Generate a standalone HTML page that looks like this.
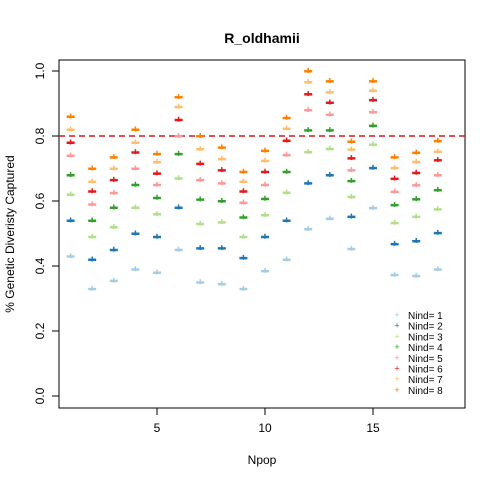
<!DOCTYPE html>
<html><head><meta charset="utf-8"><style>body{margin:0;background:#fff}svg{font-family:"Liberation Sans",Arial,sans-serif}</style></head>
<body>
<svg id="chart" width="480" height="480" xmlns="http://www.w3.org/2000/svg">
<rect width="480" height="480" fill="#fff"/>
<text x="262" y="43" text-anchor="middle" font-weight="bold" font-size="14">R_oldhamii</text>
<text x="262" y="464" text-anchor="middle" font-size="12">Npop</text>
<text x="14" y="234" text-anchor="middle" font-size="12" transform="rotate(-90 14 234)">% Genetic Diveristy Captured</text>
<rect x="59" y="60" width="406" height="348" fill="none" stroke="#000"/>
<g id="axes"></g>
<g id="marks"></g>
<g id="legend"></g>
</svg>
<script>
const npop=[1,2,3,4,5,6,7,8,9,10,11,12,13,14,15,16,17,18];
const s1=[.43,.33,.355,.39,.38,.45,.35,.345,.33,.385,.42,.514,.546,.453,.579,.373,.37,.39];
const s2=[.54,.42,.45,.50,.49,.58,.455,.455,.425,.49,.54,.655,.68,.552,.702,.468,.477,.502];
const s3=[.62,.49,.52,.58,.56,.67,.53,.535,.49,.557,.626,.751,.761,.613,.774,.533,.552,.575];
const s4=[.68,.54,.58,.65,.61,.745,.605,.60,.55,.607,.69,.818,.818,.662,.832,.588,.606,.634];
const s5=[.74,.59,.625,.70,.65,.80,.665,.655,.595,.65,.742,.88,.866,.695,.874,.629,.649,.68];
const s6=[.78,.63,.665,.75,.685,.85,.715,.695,.63,.69,.786,.929,.903,.732,.911,.669,.687,.726];
const s7=[.82,.66,.70,.78,.72,.89,.76,.73,.66,.724,.823,.966,.935,.759,.94,.702,.721,.752];
const s8=[.86,.70,.735,.82,.745,.92,.80,.765,.69,.755,.856,1.0,.969,.783,.969,.735,.749,.785];
const series=[s1,s2,s3,s4,s5,s6,s7,s8];
const colors=["#A6CEE3","#1F78B4","#B2DF8A","#33A02C","#FB9A99","#E31A1C","#FDBF6F","#FF7F00"];
const yTicks=[0,0.2,0.4,0.6,0.8,1.0];
const yTickLabels=["0.0","0.2","0.4","0.6","0.8","1.0"];
const xTicks=[5,10,15];
const NS="http://www.w3.org/2000/svg";
const X=v=>157+(v-5)*21.6, Y=v=>396-v*325;
function mk(t,a,p){const e=document.createElementNS(NS,t);for(const k in a)e.setAttribute(k,a[k]);p.appendChild(e);return e;}
const ax=document.getElementById('axes');
yTicks.forEach((t,i)=>{
 const l=mk('line',{x1:52,x2:59,y1:Y(t),y2:Y(t),stroke:'#000'},ax);
 
 
 const tx=mk('text',{x:44,y:Y(t),'text-anchor':'middle','font-size':12,transform:`rotate(-90 44 ${Y(t)})`},ax);
 tx.textContent=yTickLabels[i];
 
 
});
xTicks.forEach(t=>{
 const l=mk('line',{x1:X(t),x2:X(t),y1:408,y2:415,stroke:'#000'},ax);
 
 
 const tx=mk('text',{x:X(t),y:432,'text-anchor':'middle','font-size':12},ax);
 tx.textContent=t;
 
 
});
const ref=mk('line',{x1:59,x2:465,y1:Y(0.8),y2:Y(0.8),stroke:'#D7191C','stroke-width':1.5,'stroke-dasharray':'6,4'},ax);


const mg=document.getElementById('marks');
series.forEach((s,si)=>{
 s.forEach((v,i)=>{
  const g=mk('g',{},mg);
  
  
  const x=X(npop[i]),y=Y(v);
  mk('rect',{x:x-4,y:y-1,width:8,height:2.5,fill:colors[si]},g);
  mk('line',{x1:x,x2:x,y1:y-3,y2:y+2,stroke:colors[si],'stroke-width':1.5},g);
 });
});
const lg=document.getElementById('legend');
colors.forEach((c,i)=>{
 const y=315+i*10.7;
 const g=mk('g',{},lg);
 
 
 mk('text',{x:397,y:y+3,'text-anchor':'middle','font-size':9,fill:c},g).textContent='+';
 const t=mk('text',{x:408,y:y+4,'font-size':10},g);
 t.textContent='Nind= '+(i+1);
});
</script>
</body></html>
